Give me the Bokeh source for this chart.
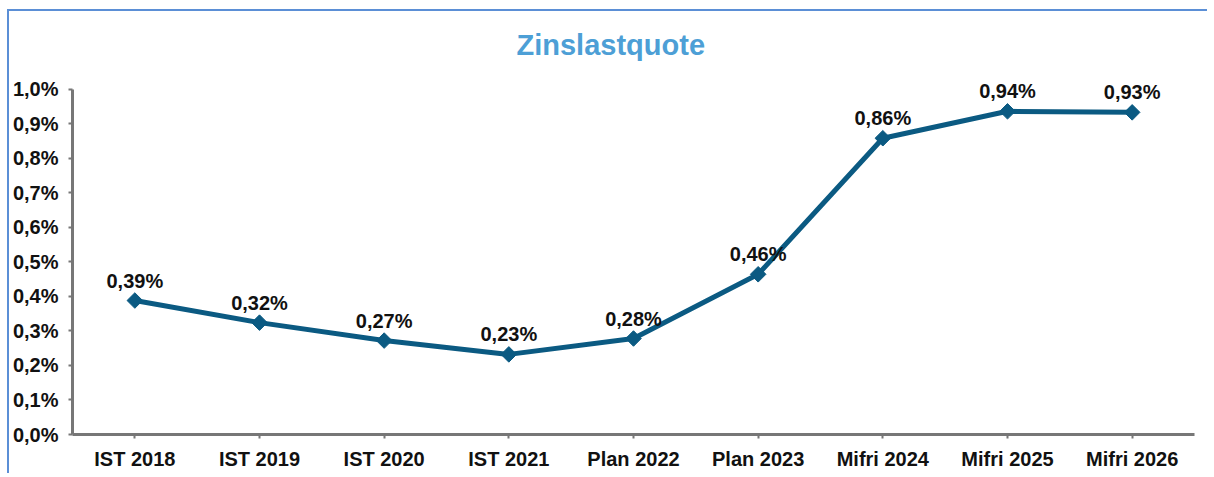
import math
from bokeh.plotting import figure
from bokeh.models import ColumnDataSource, FactorRange, Range1d, Title, FixedTicker, CustomJSTickFormatter
from bokeh.core.properties import value
from bokeh.embed import file_html
from bokeh.resources import INLINE

categories = ["IST 2018", "IST 2019", "IST 2020", "IST 2021", "Plan 2022",
              "Plan 2023", "Mifri 2024", "Mifri 2025", "Mifri 2026"]
values = [0.388, 0.324, 0.272, 0.232, 0.278, 0.464, 0.858, 0.936, 0.933]
y_ticks = [0.0, 0.1, 0.2, 0.3, 0.4, 0.5, 0.6, 0.7, 0.8, 0.9, 1.0]

labels = [("%.2f%%" % v).replace(".", ",") for v in values]
src = ColumnDataSource(dict(x=categories, y=values, lab=labels))

FONT = "Liberation Sans"
LINE = "#0b5a82"

p = figure(width=1200, height=464, output_backend="svg", toolbar_location=None,
           x_range=FactorRange(*categories, range_padding=0),
           y_range=Range1d(0, 1.06),
           min_border_left=61, min_border_right=15, min_border_top=57, min_border_bottom=41)
p.background_fill_color = "white"
p.border_fill_color = "white"
p.outline_line_color = None
p.xgrid.grid_line_color = None
p.ygrid.grid_line_color = None
p.styles = {"border-left": "2px solid #5b8fd6", "border-top": "2px solid #5b8fd6",
            "margin-left": "7px", "margin-top": "9px"}

p.title = Title(text="Zinslastquote", text_font=FONT, text_font_size="29px",
                text_font_style="bold", text_color="#4d9fd6", align="left",
                offset=444, standoff=16)

p.line("x", "y", source=src, line_color=LINE, line_width=5)
p.scatter("x", "y", source=src, marker="square", angle=math.pi / 4, size=11,
          fill_color=LINE, line_color=LINE)
p.text("x", "y", text="lab", source=src, text_align="center", text_baseline="bottom",
       y_offset=-9, text_font=value(FONT), text_font_size="20px",
       text_font_style="bold", text_color="#111111")

for ax in (p.xaxis[0], p.yaxis[0]):
    ax.axis_line_color = "#777777"
    ax.axis_line_width = 3
    ax.major_tick_line_color = "#777777"
    ax.major_tick_line_width = 2
    ax.major_tick_in = 0
    ax.major_tick_out = 4
    ax.minor_tick_line_color = None
    ax.major_label_text_font = FONT
    ax.major_label_text_font_size = "20px"
    ax.major_label_text_font_style = "bold"
    ax.major_label_text_color = "#111111"

p.yaxis[0].ticker = FixedTicker(ticks=y_ticks)
p.yaxis[0].bounds = (0, 1.0)
p.yaxis[0].formatter = CustomJSTickFormatter(code="return tick.toFixed(1).replace('.', ',') + '%';")
p.yaxis[0].major_label_standoff = 10
p.xaxis[0].major_label_standoff = 9

open("out.html", "w").write(file_html(p, INLINE))
